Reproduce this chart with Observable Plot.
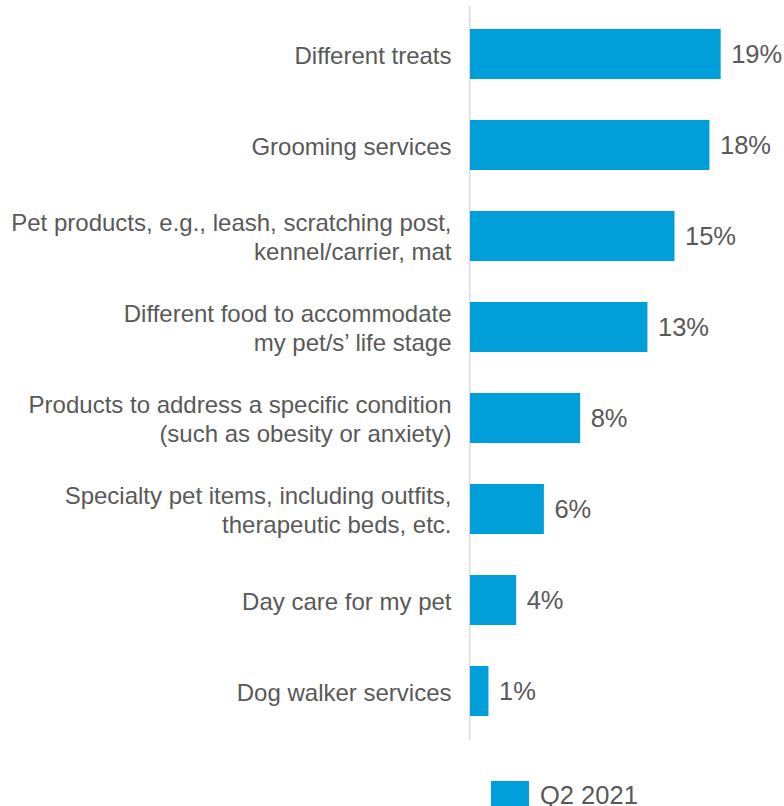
<!DOCTYPE html>
<html>
<head>
<meta charset="utf-8">
<script src="https://cdn.jsdelivr.net/npm/d3@7"></script>
<script src="https://cdn.jsdelivr.net/npm/@observablehq/plot@0.6"></script>
<style>
  html, body { margin: 0; padding: 0; background: #fff; }
  body { width: 784px; height: 806px; overflow: hidden; font-family: "Liberation Sans", Arial, sans-serif; }
  #chart svg { display: block; }
  #legend { display: flex; align-items: flex-start; padding-left: 491px; margin-top: 11px; }
  #legend .sw { width: 38px; height: 26px; background: #009fd9; }
  #legend .lb { margin-left: 11px; font-size: 25.5px; color: #595959; line-height: 1; margin-top: 2px; }
</style>
</head>
<body>
<div id="chart"></div>
<div id="legend"><div class="sw"></div><div class="lb">Q2 2021</div></div>
<script>
const categories = [
  "Different treats",
  "Grooming services",
  "Pet products, e.g., leash, scratching post,\nkennel/carrier, mat",
  "Different food to accommodate\nmy pet/s\u2019 life stage",
  "Products to address a specific condition\n(such as obesity or anxiety)",
  "Specialty pet items, including outfits,\ntherapeutic beds, etc.",
  "Day care for my pet",
  "Dog walker services"
];
const values = [19.0, 18.15, 15.5, 13.45, 8.35, 5.6, 3.5, 1.4];
const labels = ["19%", "18%", "15%", "13%", "8%", "6%", "4%", "1%"];

const data = categories.map((c, i) => ({category: c, value: values[i], label: labels[i]}));

const chart = Plot.plot({
  width: 784,
  height: 770,
  marginLeft: 470,
  marginRight: 0,
  marginTop: 6,
  marginBottom: 30,
  style: {fontFamily: "'Liberation Sans', Arial, sans-serif", background: "#fff"},
  x: {domain: [0, 23.8], axis: null},
  y: {domain: categories, paddingInner: 0.45, paddingOuter: 0.225, axis: null},
  marks: [
    Plot.ruleX([0], {stroke: "#d9d9d9", strokeWidth: 1.5, dx: -0.8}),
    Plot.barX(data, {x: "value", y: "category", fill: "#009fd9"}),
    Plot.text(data, {x: 0, y: "category", text: "category", textAnchor: "end", dx: -19,
      fontSize: 24, fill: "#595959", lineHeight: 1.19}),
    Plot.text(data, {x: "value", y: "category", text: "label", textAnchor: "start", dx: 10,
      fontSize: 25.5, fill: "#595959"})
  ]
});
document.getElementById("chart").appendChild(chart);
</script>
</body>
</html>
